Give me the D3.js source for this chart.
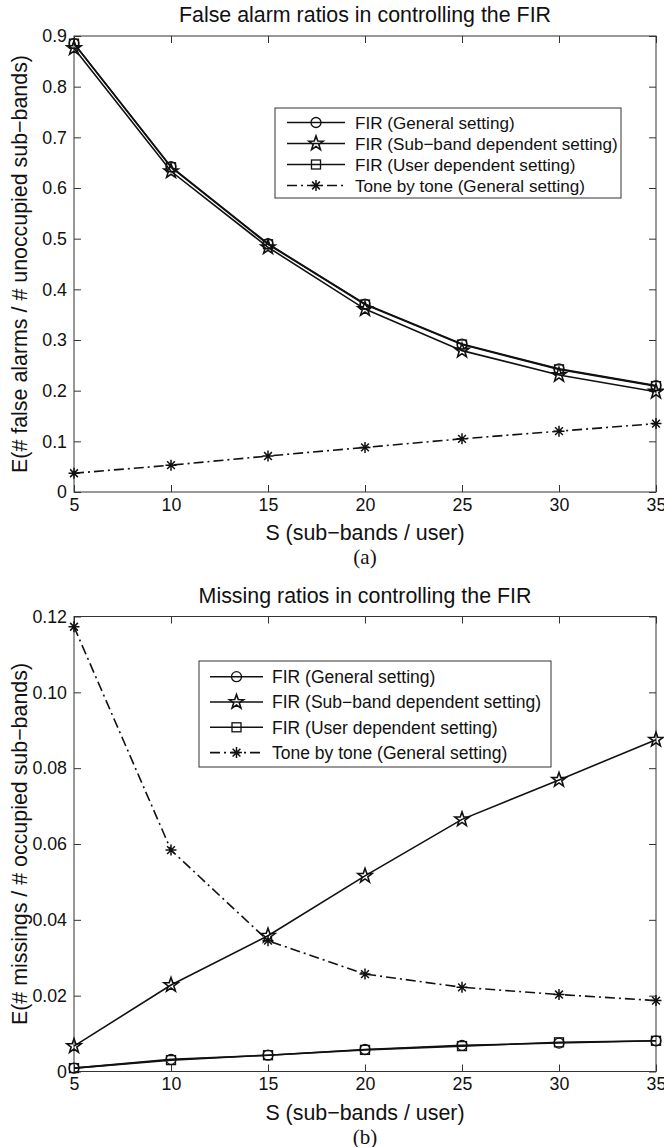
<!DOCTYPE html>
<html>
<head>
<meta charset="utf-8">
<script src="https://cdn.jsdelivr.net/npm/d3@7"></script>
<style>
  body { margin: 0; background: #fff; }
  svg { display: block; font-family: 'Liberation Sans', Arial, sans-serif; }
</style>
</head>
<body>
<script>
// sub-bands per user
const S = [5, 10, 15, 20, 25, 30, 35]

// (a) false alarm ratios
const faGeneral = [0.885, 0.642, 0.490, 0.371, 0.292, 0.243, 0.210]
const faSubband = [0.876, 0.633, 0.483, 0.361, 0.279, 0.231, 0.198]
const faUser = [0.885, 0.641, 0.489, 0.370, 0.291, 0.242, 0.209]
const faTone = [0.037, 0.053, 0.071, 0.088, 0.105, 0.120, 0.135]

// (b) missing ratios
const missGeneral = [0.0009, 0.0032, 0.0043, 0.0058, 0.0069, 0.0075, 0.0081]
const missSubband = [0.0067, 0.0228, 0.0358, 0.0516, 0.0665, 0.0769, 0.0875]
const missUser = [0.0009, 0.0030, 0.0043, 0.0057, 0.0067, 0.0077, 0.0081]
const missTone = [0.1173, 0.0584, 0.0345, 0.0257, 0.0222, 0.0203, 0.0187]

const xTicks = [5, 10, 15, 20, 25, 30, 35]
const faTicks = [0, 0.1, 0.2, 0.3, 0.4, 0.5, 0.6, 0.7, 0.8, 0.9]
const missTicks = [0, 0.02, 0.04, 0.06, 0.08, 0.1, 0.12]

const seriesNames = [
  'FIR (General setting)',
  'FIR (Sub\u2212band dependent setting)',
  'FIR (User dependent setting)',
  'Tone by tone (General setting)'
]
const markers = ['circle', 'star', 'square', 'asterisk']

const width = 664
const height = 1147
const left = 74
const right = 656

const svg = d3.select('body').append('svg')
  .attr('width', width)
  .attr('height', height)

function drawMarker (g, type, x, y) {
  if (type === 'circle') {
    g.append('circle').attr('cx', x).attr('cy', y).attr('r', 5)
      .attr('fill', 'none').attr('stroke', '#111').attr('stroke-width', 1.3)
  } else if (type === 'square') {
    g.append('rect').attr('x', x - 4.5).attr('y', y - 4.5).attr('width', 9).attr('height', 9)
      .attr('fill', 'none').attr('stroke', '#111').attr('stroke-width', 1.3)
  } else if (type === 'star') {
    const pts = d3.range(10).map(i => {
      const r = i % 2 === 0 ? 7.5 : 3
      const a = -Math.PI / 2 + i * Math.PI / 5
      return [x + r * Math.cos(a), y + r * Math.sin(a)]
    })
    g.append('path').attr('d', 'M' + pts.join('L') + 'Z')
      .attr('fill', 'none').attr('stroke', '#111').attr('stroke-width', 1.6)
  } else {
    const r = 5.5
    const d = [0, 45, 90, 135].map(deg => {
      const a = deg * Math.PI / 180
      return `M${x - r * Math.cos(a)},${y - r * Math.sin(a)}L${x + r * Math.cos(a)},${y + r * Math.sin(a)}`
    }).join('')
    g.append('path').attr('d', d).attr('stroke', '#111').attr('stroke-width', 1.5)
  }
}

function Panel (opts) {
  const g = svg.append('g')
  const x = d3.scaleLinear().domain([5, 35]).range([left, right])
  const y = d3.scaleLinear().domain(opts.yDomain).range([opts.bottom, opts.top])

  // inward ticks on all four sides, like the original
  g.append('g').attr('transform', `translate(0,${opts.bottom})`)
    .call(d3.axisBottom(x).tickValues(xTicks).tickSizeInner(-7).tickSizeOuter(0).tickPadding(6))
  g.append('g').attr('transform', `translate(0,${opts.top})`)
    .call(d3.axisTop(x).tickValues(xTicks).tickSizeInner(-7).tickSizeOuter(0).tickFormat(''))
  g.append('g').attr('transform', `translate(${left},0)`)
    .call(d3.axisLeft(y).tickValues(opts.yTicks).tickSizeInner(-7).tickSizeOuter(0).tickPadding(7)
      .tickFormat(d => d === 0 ? '0' : d3.format(opts.fmt)(d)))
  g.append('g').attr('transform', `translate(${right},0)`)
    .call(d3.axisRight(y).tickValues(opts.yTicks).tickSizeInner(-7).tickSizeOuter(0).tickFormat(''))

  g.selectAll('.domain').remove()
  g.selectAll('.tick line').attr('stroke', '#333')
  g.selectAll('.tick text').attr('font-size', 17.8).attr('fill', '#111')
    .attr('font-family', "'Liberation Sans', Arial, sans-serif")

  g.append('rect')
    .attr('x', left).attr('y', opts.top)
    .attr('width', right - left).attr('height', opts.bottom - opts.top)
    .attr('fill', 'none').attr('stroke', '#333').attr('stroke-width', 1)

  const line = d3.line().x((d, i) => x(S[i])).y(d => y(d))

  opts.series.forEach((vals, k) => {
    g.append('path').datum(vals).attr('d', line)
      .attr('fill', 'none').attr('stroke', '#111').attr('stroke-width', 1.6)
      .attr('stroke-dasharray', k === 3 ? '10,4,2,4' : null)
    vals.forEach((v, i) => drawMarker(g, markers[k], x(S[i]), y(v)))
  })

  // title, axis labels, caption
  g.append('text').attr('x', (left + right) / 2).attr('y', opts.top - 14)
    .attr('text-anchor', 'middle').attr('font-size', 21.4).attr('fill', '#111')
    .text(opts.title)
  g.append('text').attr('x', (left + right) / 2).attr('y', opts.bottom + 48)
    .attr('text-anchor', 'middle').attr('font-size', 21.4).attr('fill', '#111')
    .text('S (sub\u2212bands / user)')
  g.append('text').attr('x', (left + right) / 2).attr('y', opts.bottom + 72)
    .attr('text-anchor', 'middle').attr('font-size', 21).attr('fill', '#111')
    .attr('font-family', "'Liberation Serif', 'Times New Roman', serif")
    .text(opts.caption)
  g.append('text')
    .attr('transform', `translate(27,${(opts.top + opts.bottom) / 2}) rotate(-90)`)
    .attr('text-anchor', 'middle').attr('font-size', 21.4).attr('fill', '#111')
    .text(opts.yLabel)

  // legend
  const lg = opts.legend
  const leg = g.append('g')
  leg.append('rect').attr('x', lg.x).attr('y', lg.y).attr('width', lg.w).attr('height', lg.h)
    .attr('fill', '#fff').attr('stroke', '#333').attr('stroke-width', 1)
  seriesNames.forEach((name, k) => {
    const ry = lg.y + lg.first + k * lg.step
    leg.append('line').attr('x1', lg.x + lg.l1).attr('x2', lg.x + lg.l2).attr('y1', ry).attr('y2', ry)
      .attr('stroke', '#111').attr('stroke-width', 1.6)
      .attr('stroke-dasharray', k === 3 ? '10,4,2,4' : null)
    drawMarker(leg, markers[k], lg.x + (lg.l1 + lg.l2) / 2, ry)
    leg.append('text').attr('x', lg.x + lg.tx).attr('y', ry).attr('dy', '0.36em')
      .attr('font-size', lg.font).attr('fill', '#111').text(name)
  })
}

Panel({
  top: 36,
  bottom: 492,
  yDomain: [0, 0.9],
  yTicks: faTicks,
  fmt: '.1f',
  title: 'False alarm ratios in controlling the FIR',
  yLabel: 'E(# false alarms / # unoccupied sub\u2212bands)',
  caption: '(a)',
  series: [faGeneral, faSubband, faUser, faTone],
  legend: { x: 275, y: 108, w: 346, h: 90, first: 14.5, step: 21, font: 17.1, l1: 12, l2: 70, tx: 80 }
})

Panel({
  top: 616.5,
  bottom: 1071.5,
  yDomain: [0, 0.12],
  yTicks: missTicks,
  fmt: '.2f',
  title: 'Missing ratios in controlling the FIR',
  yLabel: 'E(# missings / # occupied sub\u2212bands)',
  caption: '(b)',
  series: [missGeneral, missSubband, missUser, missTone],
  legend: { x: 199, y: 661, w: 352, h: 106, first: 15.7, step: 25.3, font: 17.5, l1: 11, l2: 64, tx: 73 }
})
</script>
</body>
</html>
